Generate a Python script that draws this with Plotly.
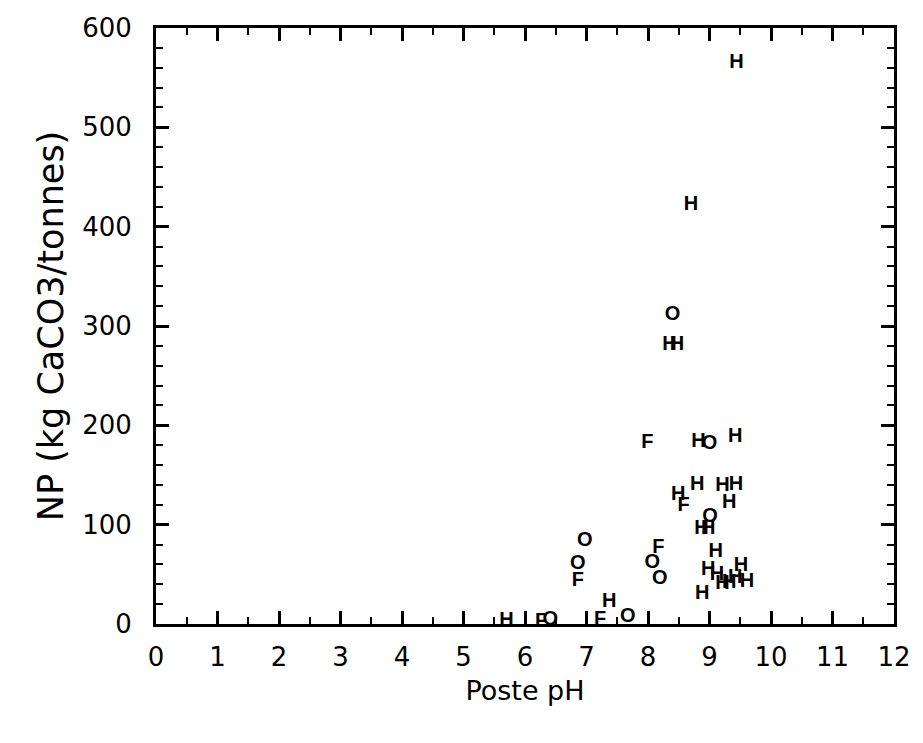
import plotly.graph_objects as go

# H samples
h_ph = [9.44, 8.70, 8.35, 8.47, 8.82, 9.42, 8.80, 9.21, 9.43, 8.49, 9.32, 8.87, 8.98,
        7.37, 9.10, 8.98, 9.12, 9.21, 9.32, 9.42, 9.61, 9.51, 8.88, 5.70]
h_np = [565, 422, 281, 281, 183, 188, 140, 139, 140, 130, 122, 96, 96,
        22, 72, 54, 49, 40, 41, 46, 42, 58, 30, 3]
# O samples
o_ph = [8.40, 9.00, 9.01, 6.97, 6.86, 8.07, 8.19, 6.41, 7.67]
o_np = [311, 181, 108, 84, 60, 61, 45, 4, 7]
# F samples
f_ph = [7.99, 8.58, 6.86, 8.17, 6.26, 7.22]
f_np = [182, 119, 43, 77, 2, 4]

x_ticks = list(range(0, 13))
y_ticks = [0, 100, 200, 300, 400, 500, 600]

fig = go.Figure()
mark_font = dict(family="Liberation Sans", size=20, color="black", weight="bold")
for name, xs, ys, letter in [("H", h_ph, h_np, "H"), ("O", o_ph, o_np, "O"), ("F", f_ph, f_np, "F")]:
    fig.add_trace(go.Scatter(x=xs, y=ys, mode="text", text=[letter] * len(xs),
                             textposition="middle center", textfont=mark_font,
                             name=name, showlegend=False, cliponaxis=False))

axis_common = dict(showgrid=False, zeroline=False, showline=True, linecolor="black",
                   linewidth=3, mirror="ticks", ticks="inside", tickcolor="black",
                   tickwidth=2.5, ticklen=13,
                   tickfont=dict(family="DejaVu Sans", size=26, color="black"))

fig.update_xaxes(range=[0, 12], tickvals=x_ticks, ticktext=[str(v) for v in x_ticks],
                 minor=dict(dtick=0.5, ticks="inside", ticklen=7, tickwidth=2, tickcolor="black"),
                 title=dict(text="Poste pH", font=dict(family="DejaVu Sans", size=27, color="black"),
                            standoff=10),
                 ticklabelstandoff=8, **axis_common)
fig.update_yaxes(range=[0, 600], tickvals=y_ticks, ticktext=[str(v) for v in y_ticks],
                 minor=dict(dtick=20, ticks="inside", ticklen=7, tickwidth=2, tickcolor="black"),
                 title=dict(text="NP (kg CaCO3/tonnes)", font=dict(family="DejaVu Sans", size=35, color="black"),
                            standoff=8),
                 ticklabelstandoff=16, **axis_common)

fig.update_layout(width=923, height=743, paper_bgcolor="white", plot_bgcolor="white",
                  margin=dict(l=156, r=19, t=28, b=119), showlegend=False)

fig.write_html("out.html")
